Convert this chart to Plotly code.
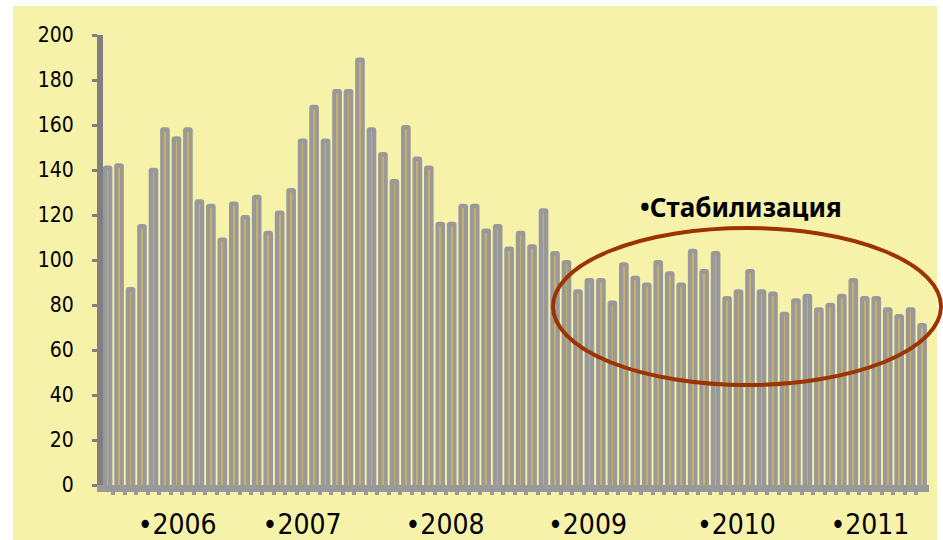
import plotly.graph_objects as go

values = [142, 143, 88, 116, 141, 159, 155, 159, 127, 125, 110, 126,
          120, 129, 113, 122, 132, 154, 169, 154, 176, 176, 190, 159,
          148, 136, 160, 146, 142, 117, 117, 125, 125, 114, 116, 106,
          113, 107, 123, 104, 100, 87, 92, 92, 82, 99, 93, 90,
          100, 95, 90, 105, 96, 104, 84, 87, 96, 87, 86, 77,
          83, 85, 79, 81, 85, 92, 84, 84, 79, 76, 79, 72]
x_idx = list(range(len(values)))

year_labels = ["•2006", "•2007", "•2008", "•2009", "•2010", "•2011"]
year_label_pos = [6.06, 16.95, 29.41, 41.83, 54.81, 66.45]

y_ticks = [0, 20, 40, 60, 80, 100, 120, 140, 160, 180, 200]
annotation_text = "•Стабилизация"

W, H = 943, 540
L, R, T, B = 103, 14, 35, 55
pw, ph = W - L - R, H - T - B

def px_x(p):
    return (p - L) / pw

def px_y(p):
    return (H - B - p) / ph

fig = go.Figure()
fig.add_trace(go.Bar(
    x=x_idx, y=values, width=0.84,
    marker=dict(color="#999999", line=dict(width=0), cornerradius=3),
    hoverinfo="y", showlegend=False,
))
fig.add_trace(go.Bar(
    x=x_idx, y=[v - 2 for v in values], width=0.06,
    marker=dict(color="#c9b068", line=dict(width=0)),
    hoverinfo="skip", showlegend=False,
))

fig.update_layout(
    width=W, height=H,
    margin=dict(l=L, r=R, t=T, b=B, autoexpand=False),
    barmode="overlay",
    paper_bgcolor="white",
    plot_bgcolor="rgba(0,0,0,0)",
    font=dict(family="Liberation Sans Narrow, DejaVu Sans Condensed, Roboto, Arial", color="black"),
    xaxis=dict(
        range=[-0.4, 71.6], automargin=False,
        showgrid=False, zeroline=False,
        showline=True, linecolor="#999999", linewidth=7,
        tickmode="array", tickvals=year_label_pos, ticktext=year_labels,
        ticks="", tickfont=dict(size=28, color="black"),
        ticklabelstandoff=8,
        minor=dict(tickmode="array", tickvals=[i + 0.5 for i in x_idx[:-1]],
                   ticks="outside", ticklen=3, tickwidth=4, tickcolor="#999999"),
    ),
    yaxis=dict(
        range=[0, 200], automargin=False,
        showgrid=False, zeroline=False,
        showline=True, linecolor="#7f7f7f", linewidth=6,
        tickmode="array", tickvals=y_ticks,
        ticks="outside", ticklen=5, tickwidth=3, tickcolor="#7f7f7f",
        tickfont=dict(size=21, color="black"),
        ticklabelstandoff=14,
    ),
    shapes=[
        dict(type="rect", xref="paper", yref="paper", layer="below",
             x0=px_x(13), x1=px_x(937), y0=px_y(540), y1=px_y(6),
             fillcolor="#f7f2aa", line=dict(width=0)),
        dict(type="circle", xref="paper", yref="paper", layer="above",
             x0=px_x(553), x1=px_x(941), y0=px_y(385), y1=px_y(228),
             line=dict(color="#9c3300", width=4)),
    ],
    annotations=[
        dict(text="<b>" + annotation_text + "</b>", xref="paper", yref="paper",
             x=px_x(741), y=px_y(207), xanchor="center", yanchor="middle",
             showarrow=False,
             font=dict(family="Noto Sans, Open Sans, Arial", size=26, color="black")),
    ],
)

fig.write_html("out.html", config={"displayModeBar": False},
               post_script="document.body.style.margin='0';document.body.style.overflow='hidden';")
